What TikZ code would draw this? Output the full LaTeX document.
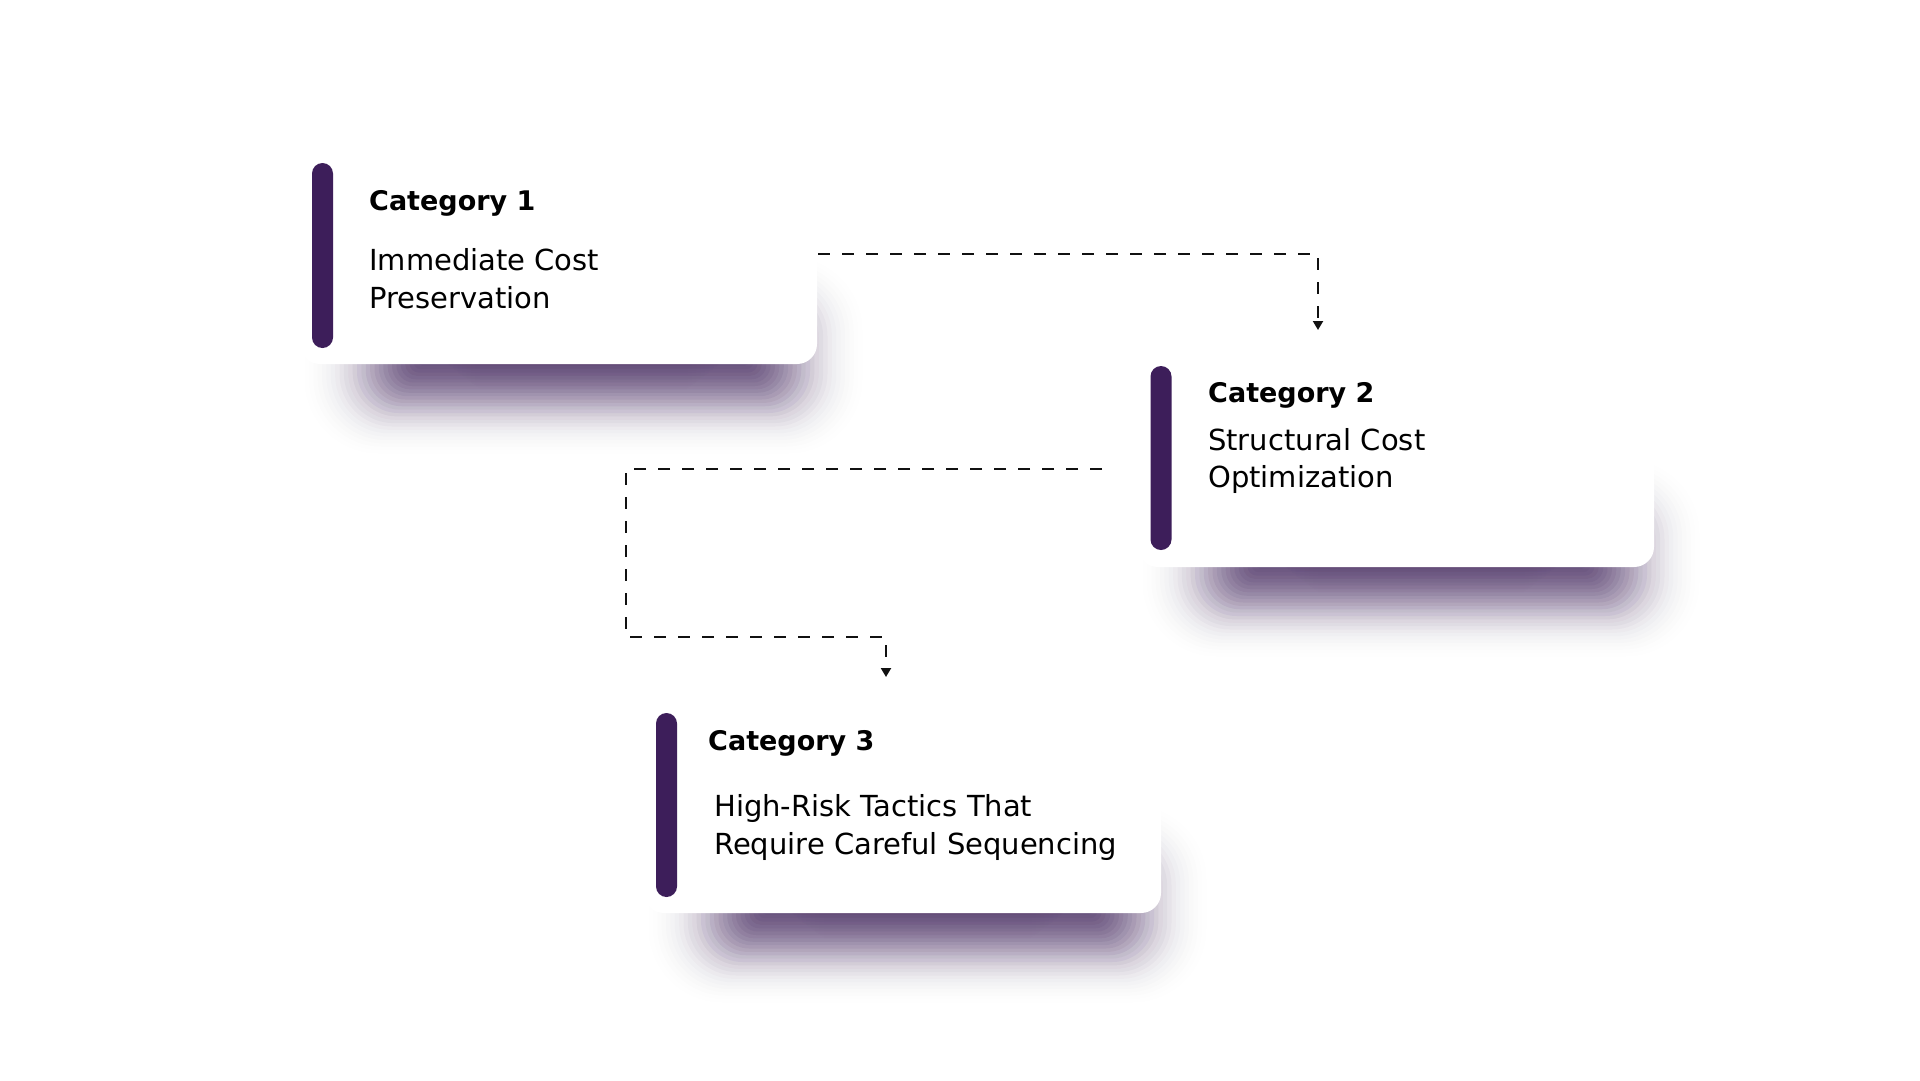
\documentclass[tikz,border=0pt]{standalone}
\usepackage{fontspec}
\setmainfont{DejaVu Sans}
\usetikzlibrary{arrows.meta}
\definecolor{barpurple}{HTML}{3D1E5A}
\definecolor{shadowpurple}{HTML}{3D1E5A}
\definecolor{inkblack}{HTML}{111111}

% soft shadow under a card: #1 x-left, #2 y-top, #3 x-right, #4 y-bottom (pixels, y downward)
% equally spaced layers with gaussian-weighted opacity -> smooth blur-like falloff
\newcommand\mkshadow[4]{%
  \foreach \k in {-20,...,20}{%
    \pgfmathsetmacro\uu{\k*0.125}%
    \pgfmathsetmacro\op{1-exp(-0.0803*exp(-(\uu)*(\uu)/2))}%
    \pgfmathsetmacro\ey{\uu*27}%
    \pgfmathsetmacro\ex{\uu*35}%
    \pgfmathsetmacro\rc{max(4,20+0.8*\ey)}%
    \fill[shadowpurple, opacity=\op, rounded corners=\rc]
      ({#1+92-\ex},{#4-40-\ey}) rectangle ({#3-42+\ex},{#4+22+\ey});
  }%
}

\tikzset{
  card/.style={fill=white, draw=none, rounded corners=20pt, inner sep=0pt, outer sep=0pt},
  accent/.style={fill=barpurple, draw=none, rounded corners=10.5pt, minimum width=21pt, inner sep=0pt, outer sep=0pt},
  ctitle/.style={anchor=base west, inner sep=0pt, font=\fontsize{27}{32}\selectfont\bfseries, text=black},
  cbody/.style={anchor=base west, inner sep=0pt, font=\fontsize{29}{38}\selectfont, text=black},
  conn/.style={draw=inkblack, line width=2pt, dash pattern=on 12pt off 12pt, -{Triangle[width=10pt,length=9pt]}}
}

\begin{document}
\begin{tikzpicture}[x=1pt,y=-1pt]
  \useasboundingbox (0,0) rectangle (1920,1080);
  \fill[white] (0,0) rectangle (1920,1080);

  % shadows
  \mkshadow{300}{147}{817}{364}
  \mkshadow{1138}{349}{1654}{567}
  \mkshadow{644}{696}{1161}{913}

  % cards
  \node[card, minimum width=517pt, minimum height=217pt] (c1) at (558.5,255.5) {};
  \node[card, minimum width=516pt, minimum height=218pt] (c2) at (1396,458) {};
  \node[card, minimum width=517pt, minimum height=217pt] (c3) at (902.5,804.5) {};

  % accent bars
  \node[accent, minimum height=185pt] (b1) at (322.5,255.5) {};
  \node[accent, minimum height=184pt] (b2) at (1161,458) {};
  \node[accent, minimum height=184pt] (b3) at (666.5,805) {};

  % texts
  \node[ctitle] (t1) at (369,210) {Category 1};
  \node[cbody] (d1a) at (369,270) {Immediate Cost};
  \node[cbody] (d1b) at (369,308) {Preservation};

  \node[ctitle] (t2) at (1208,402) {Category 2};
  \node[cbody] (d2a) at (1208,450) {Structural Cost};
  \node[cbody] (d2b) at (1208,487) {Optimization};

  \node[ctitle] (t3) at (708,750) {Category 3};
  \node[cbody] (d3a) at (714,816) {High-Risk Tactics That};
  \node[cbody] (d3b) at (714,854) {Require Careful Sequencing};

  % connectors
  \coordinate (s1) at (818,254);
  \coordinate (e1) at (1318,330);
  \draw[conn] (s1) -| (e1);

  \coordinate (s2) at (1102,469);
  \coordinate (m2) at (626,637);
  \coordinate (e2) at (886,677);
  \draw[conn] (s2) -| (m2) -| (e2);
\end{tikzpicture}
\end{document}
